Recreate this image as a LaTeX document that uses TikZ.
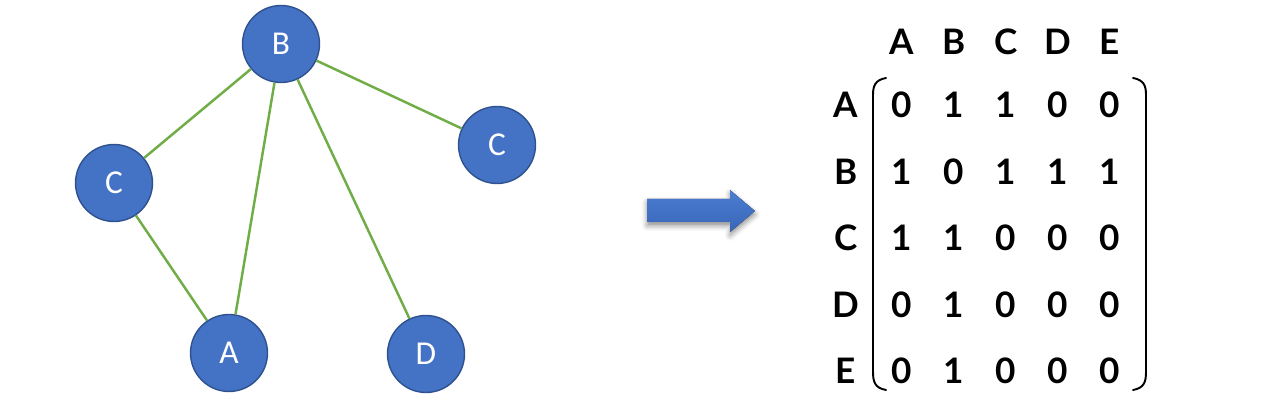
\documentclass[tikz,border=0pt]{standalone}
\usepackage{fontspec}
\setmainfont{Carlito}
\newfontfamily\matfont{Lato}
\usetikzlibrary{shadows.blur}
\definecolor{nodeblue}{HTML}{4472C4}
\definecolor{nodeedge}{HTML}{2F528F}
\definecolor{edgegreen}{HTML}{70AD47}
\definecolor{arrowtop}{HTML}{4A7DD2}
\definecolor{arrowbot}{HTML}{3A66B8}

\begin{document}
\begin{tikzpicture}[x=0.02cm, y=-0.02cm,
    vertex/.style={circle, draw=nodeedge, fill=nodeblue, line width=0.8pt, minimum size=1.54cm, inner sep=0pt, text=white, font=\fontsize{19}{19}\selectfont},
    link/.style={draw=edgegreen, line width=1.4pt},
    entry/.style={font=\matfont\bfseries\fontsize{20}{20}\selectfont, inner sep=0pt},
    bracket/.style={draw=black, line width=1.1pt, line cap=round}
]
    \useasboundingbox (0,0) rectangle (1270,404);

    % graph
    \node[vertex] (b) at (281,44) {B};
    \node[vertex] (cl) at (114,183) {C};
    \node[vertex] (cr) at (497,145) {C};
    \node[vertex] (a) at (229,353) {A};
    \node[vertex] (d) at (426,354) {D};

    \draw[link] (b) -- (cl);
    \draw[link] (b) -- (a);
    \draw[link] (b) -- (d);
    \draw[link] (b) -- (cr);
    \draw[link] (cl) -- (a);

    % arrow
    \fill[top color=arrowtop, bottom color=arrowbot, blur shadow={shadow xshift=0pt, shadow yshift=-2pt, shadow blur radius=3pt, shadow opacity=45}]
        (647,199) -- (730,199) -- (730,190) -- (755,211) -- (730,232) -- (730,222) -- (647,222) -- cycle;

    % adjacency matrix
    \foreach \l [count=\i] in {A,B,C,D,E} {
        \node[entry] (col\l) at ({850+52*\i},42) {\l};
        \node[entry] (row\l) at (846,{105+66.5*(\i-1)}) {\l};
    }
    \foreach \row [count=\r] in {{0,1,1,0,0},{1,0,1,1,1},{1,1,0,0,0},{0,1,0,0,0},{0,1,0,0,0}} {
        \foreach \v [count=\c] in \row {
            \node[entry] (m\r\c) at ({850+52*\c},{105+66.5*(\r-1)}) {\v};
        }
    }

    \draw[bracket] (886,78) .. controls (875,80) and (873,86) .. (873,95) -- (873,372) .. controls (873,382) and (875,388) .. (886,390);
    \draw[bracket] (1133,78) .. controls (1144,80) and (1146,86) .. (1146,95) -- (1146,372) .. controls (1146,382) and (1144,388) .. (1133,390);
\end{tikzpicture}
\end{document}
